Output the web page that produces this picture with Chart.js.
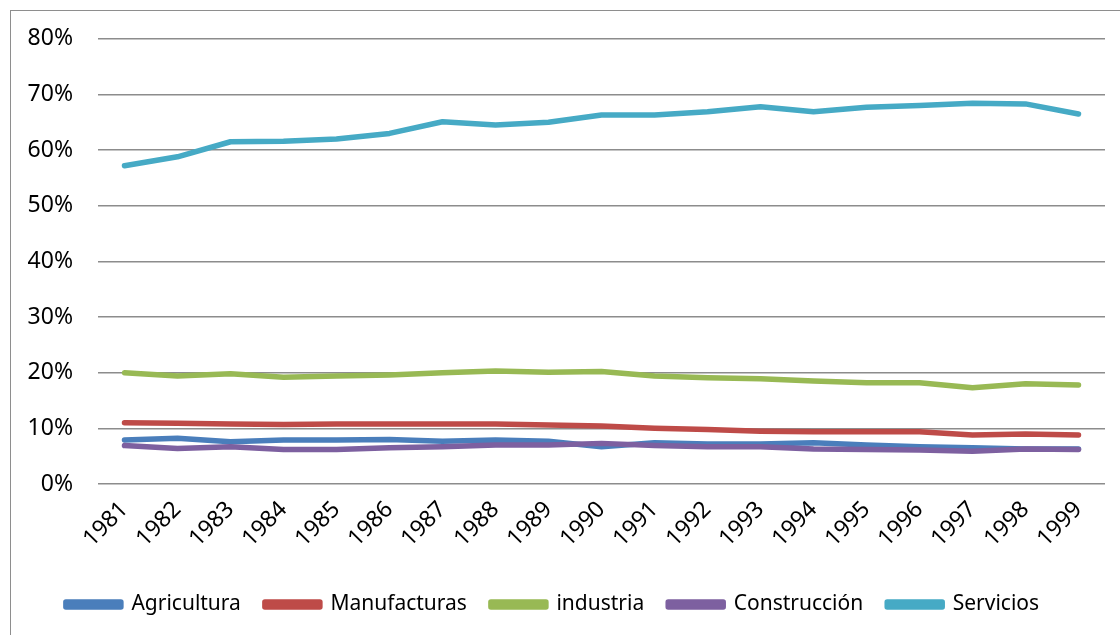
<!DOCTYPE html>
<html>
<head>
<meta charset="utf-8">
<script src="https://cdn.jsdelivr.net/npm/chart.js@4/dist/chart.umd.min.js"></script>
<style>
  html,body{margin:0;padding:0;background:#fff}
  .wrap{position:relative;width:1120px;height:635px;overflow:hidden}
  .frame{position:absolute;left:10px;top:10px;width:1200px;height:700px;border:1.5px solid #8e8e8e;box-sizing:border-box}
  canvas{position:absolute;left:0;top:0}
</style>
</head>
<body>
<div class="wrap">
  <div class="frame"></div>
  <canvas id="c" width="1120" height="635"></canvas>
</div>
<script>
const years = ['1981','1982','1983','1984','1985','1986','1987','1988','1989','1990','1991','1992','1993','1994','1995','1996','1997','1998','1999'];

const agricultura  = [7.9, 8.2, 7.6, 7.9, 7.9, 8.0, 7.7, 7.9, 7.7, 6.7, 7.4, 7.2, 7.2, 7.4, 7.0, 6.7, 6.5, 6.3, 6.3];
const manufacturas = [11.0, 10.9, 10.8, 10.7, 10.8, 10.8, 10.8, 10.8, 10.6, 10.4, 10.0, 9.8, 9.5, 9.4, 9.4, 9.4, 8.8, 9.0, 8.8];
const industria    = [20.0, 19.4, 19.8, 19.2, 19.4, 19.6, 20.0, 20.3, 20.1, 20.2, 19.4, 19.1, 18.9, 18.5, 18.2, 18.2, 17.3, 18.0, 17.8];
const construccion = [6.9, 6.4, 6.7, 6.2, 6.2, 6.5, 6.7, 7.0, 7.0, 7.3, 6.9, 6.7, 6.7, 6.3, 6.2, 6.1, 5.9, 6.3, 6.2];
const servicios    = [57.2, 58.8, 61.5, 61.6, 62.0, 63.0, 65.1, 64.5, 65.0, 66.3, 66.3, 66.9, 67.8, 66.9, 67.7, 68.0, 68.4, 68.3, 66.5];

const names  = ['Agricultura','Manufacturas','industria','Construcción','Servicios'];
const series = [agricultura, manufacturas, industria, construccion, servicios];
const colors = ['#4a7ebb','#be4b48','#98b954','#7d60a0','#46aac5'];

const FONT = '"Noto Sans", "Open Sans", sans-serif';

const datasets = series.map((d,i)=>({
  label: names[i],
  data: d,
  borderColor: colors[i],
  backgroundColor: colors[i],
  borderWidth: 5.5,
  borderCapStyle: 'round',
  borderJoinStyle: 'round',
  pointRadius: 0,
  tension: 0,
  order: series.length - i   // later series on top, like the original
}));

new Chart(document.getElementById('c'), {
  type: 'line',
  data: { labels: years, datasets },
  options: {
    responsive: false,
    animation: false,
    layout: { padding: { left: 0, right: 15, top: 27, bottom: 10 } },
    plugins: {
      tooltip: { enabled: false },
      legend: {
        position: 'bottom',
        labels: {
          sort: (a,b)=>a.datasetIndex-b.datasetIndex,
          boxWidth: 55,
          boxHeight: 5,
          padding: 24,
          color: '#000',
          font: { family: FONT, size: 21 }
        }
      }
    },
    scales: {
      x: {
        offset: true,
        grid: { display: false, drawTicks: false },
        border: { display: false },
        ticks: {
          color: '#000',
          font: { family: FONT, size: 23 },
          minRotation: 45,
          maxRotation: 45,
          padding: 12,
          autoSkip: false
        },
        afterFit: s => { s.height = 86; }
      },
      y: {
        min: 0,
        max: 80,
        grid: { color: '#8c8c8c', lineWidth: 1.4, drawTicks: false },
        border: { display: false },
        ticks: {
          stepSize: 10,
          padding: 25,
          color: '#000',
          font: { family: FONT, size: 23 },
          callback: v => v + '%'
        },
        afterFit: s => { s.width = 98; }
      }
    }
  }
});
</script>
</body>
</html>
